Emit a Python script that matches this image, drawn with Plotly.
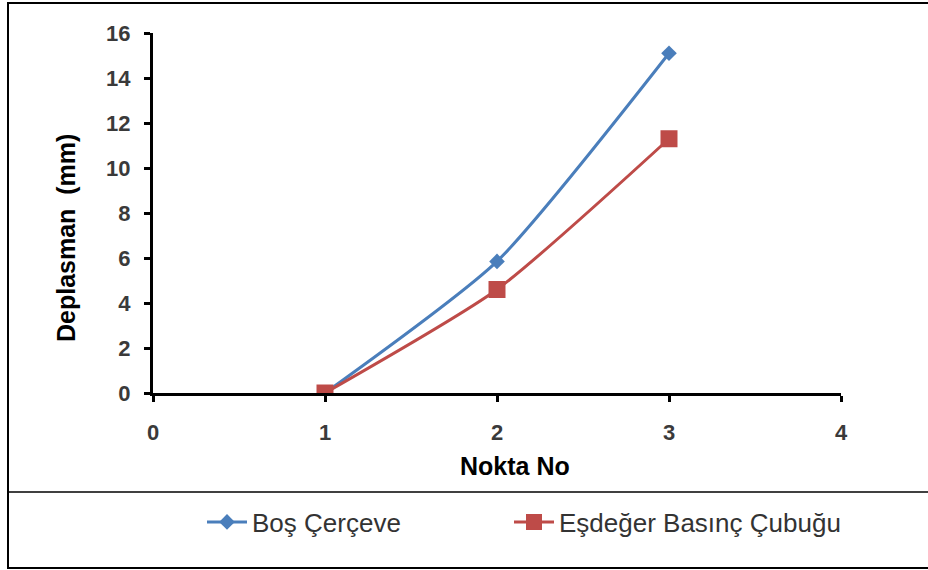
import plotly.graph_objects as go

# --- DATA ---
nokta = [1, 2, 3]
bos_cerceve = [0.0, 5.85, 15.1]
esdeger_basinc = [0.0, 4.6, 11.3]

x_ticks = [0, 1, 2, 3, 4]
y_ticks = [0, 2, 4, 6, 8, 10, 12, 14, 16]

W, H = 928, 570
L, R, T, B = 153, 841, 33, 393


def px(x):
    return (x - L) / (R - L)


def py(y):
    return (B - y) / (B - T)


fig = go.Figure()

fig.add_trace(go.Scatter(
    x=nokta, y=bos_cerceve, name="Boş Çerçeve", mode="lines+markers", legend="legend",
    line=dict(color="#4A7EBB", width=3, shape="spline", smoothing=0.6),
    marker=dict(symbol="diamond", size=12, color="#4A7EBB")))

fig.add_trace(go.Scatter(
    x=nokta, y=esdeger_basinc, name="Eşdeğer Basınç Çubuğu", mode="lines+markers", legend="legend2",
    line=dict(color="#BE4B48", width=3, shape="spline", smoothing=0.6),
    marker=dict(symbol="square", size=17, color="#BE4B48")))

axis_common = dict(showgrid=False, zeroline=False, showline=True, linecolor="black", linewidth=3,
                   ticks="outside", ticklen=6, tickwidth=3, tickcolor="black",
                   tickfont=dict(family="Liberation Sans", size=22, color="#3a3a3a"))

fig.update_xaxes(range=[0, 4], tickvals=x_ticks, ticktext=[f"<b>{v}</b>" for v in x_ticks],
                 ticklabelstandoff=12, **axis_common)
fig.update_yaxes(range=[0, 16], tickvals=y_ticks, ticktext=[f"<b>{v}</b>" for v in y_ticks],
                 ticklabelstandoff=9, **axis_common)

fig.add_annotation(text="<b>Deplasman&nbsp; (mm)</b>", textangle=-90, xref="paper", yref="paper",
                   x=px(66), y=py(238), xanchor="center", yanchor="middle", showarrow=False,
                   font=dict(family="Liberation Sans", size=25, color="black"))
fig.add_annotation(text="<b>Nokta No</b>", xref="paper", yref="paper",
                   x=px(515), y=py(466), xanchor="center", yanchor="middle", showarrow=False,
                   font=dict(family="Liberation Sans", size=25, color="black"))

# outer frame and legend divider
fig.add_shape(type="rect", xref="paper", yref="paper", x0=px(8), x1=px(935), y0=py(568), y1=py(3),
              line=dict(color="black", width=2))
fig.add_shape(type="line", xref="paper", yref="paper", x0=px(8), x1=px(935), y0=py(492), y1=py(492),
              line=dict(color="black", width=1.5))

legend_font = dict(family="Liberation Sans", size=26, color="#333333")
fig.update_layout(
    width=W, height=H,
    margin=dict(l=L, r=W - R, t=T, b=H - B),
    paper_bgcolor="white", plot_bgcolor="white",
    showlegend=True,
    legend=dict(orientation="h", xref="paper", yref="paper", x=px(202), y=py(522),
                xanchor="left", yanchor="middle", itemwidth=40, font=legend_font),
    legend2=dict(orientation="h", xref="paper", yref="paper", x=px(509), y=py(522),
                 xanchor="left", yanchor="middle", itemwidth=40, font=legend_font),
)

fig.write_html("out.html", config={"displayModeBar": False},
               post_script="document.body.style.margin='0';")
